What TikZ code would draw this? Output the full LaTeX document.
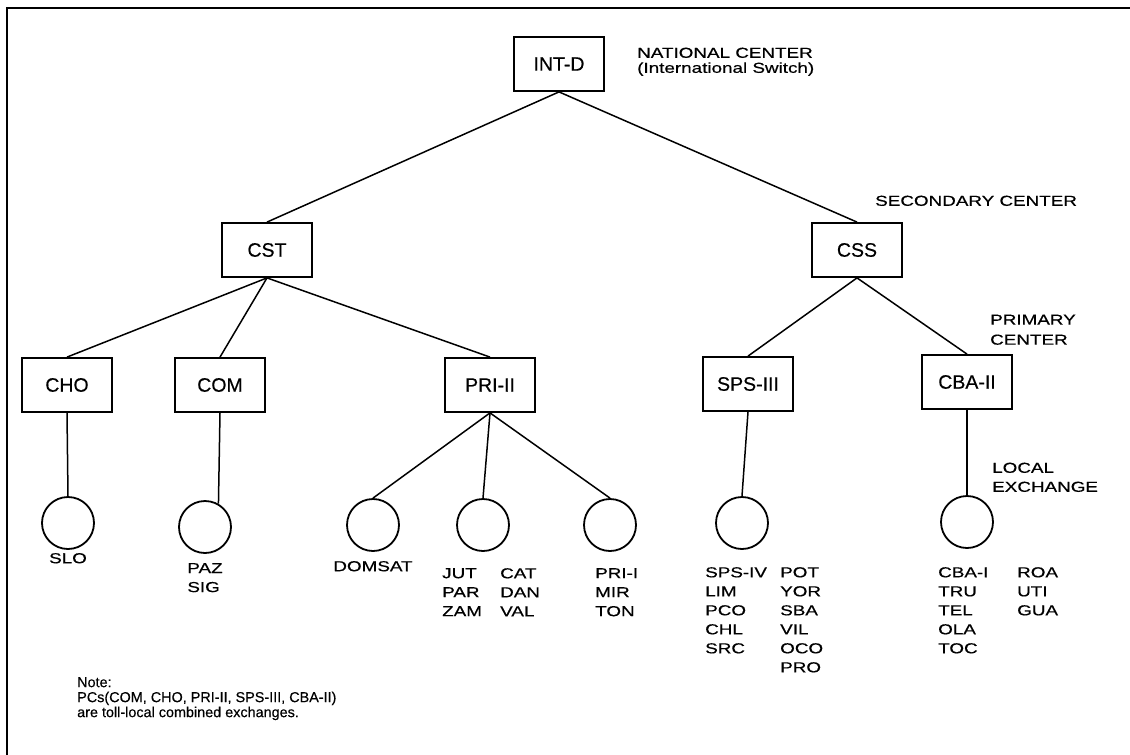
\documentclass[tikz,border=0pt]{standalone}
\usepackage{fontspec}
\setmainfont{Liberation Sans}[FakeBold=0.4]
\newfontfamily\lblfont[FakeStretch=1.3,FakeBold=0.5]{Liberation Sans}
\usetikzlibrary{positioning}

\begin{document}
\begin{tikzpicture}[
    x=1pt, y=-1pt,
    % Node styles
    switch/.style={
        rectangle, draw=black, line width=1.8pt,
        minimum width=90pt, minimum height=54pt,
        font=\fontsize{19.5}{22}\selectfont
    },
    exch/.style={
        circle, draw=black, line width=1.8pt,
        minimum size=52pt, inner sep=0pt
    },
    link/.style={line width=1.5pt, black},
    level/.style={
        font=\lblfont\fontsize{14.5}{20}\selectfont,
        align=left, inner sep=0pt, anchor=north west
    },
    sites/.style={
        font=\lblfont\fontsize{14.5}{19}\selectfont,
        align=left, inner sep=0pt, anchor=north west
    },
    note/.style={
        font=\fontsize{14.4}{15}\selectfont,
        align=left, inner sep=0pt, anchor=north west
    },
    frame/.style={line width=2.2pt, black}
]
\useasboundingbox (0,0) rectangle (1130,755);

% ============================================================
% Frame
% ============================================================
\coordinate (ftr) at (1130,8);
\coordinate (ftl) at (7,8);
\coordinate (fbl) at (7,755);
\draw[frame] (ftr) -- (ftl) -- (fbl);

% ============================================================
% Switching centers
% ============================================================

% -- National center --
\node[switch] (intd) at (559,64) {INT-D};
\node[level, font=\lblfont\fontsize{14.5}{15}\selectfont] (natl) at (637,47.5)
    {NATIONAL CENTER\\(International Switch)};

% -- Secondary centers --
\node[switch] (cst) at (267,250) {CST};
\node[switch] (css) at (857,250) {CSS};
\node[level] (secl) at (875,195.5) {SECONDARY CENTER};

% -- Primary centers --
\node[switch] (cho) at (67,385) {CHO};
\node[switch] (com) at (220,385) {COM};
\node[switch] (pri) at (490,385) {PRI-II};
\node[switch] (sps) at (748,384) {SPS-III};
\node[switch] (cba) at (967,382) {CBA-II};
\node[level] (priml) at (990,314.5) {PRIMARY\\CENTER};

% -- Local exchanges --
\node[exch] (slox) at (68,523) {};
\node[exch] (comx) at (205,527) {};
\node[exch] (domx) at (373,525) {};
\node[exch] (jutx) at (483,525) {};
\node[exch] (prix) at (610,525) {};
\node[exch] (spsx) at (742,523) {};
\node[exch] (cbax) at (967,522) {};
\node[level, font=\lblfont\fontsize{14.5}{19}\selectfont] (locl) at (992,462.5)
    {LOCAL\\EXCHANGE};

% ============================================================
% Exchange names
% ============================================================
\node[sites, below=3pt of slox] (slon) {SLO};
\node[sites, below=9pt of comx] (comn) {PAZ\\SIG};
\node[sites, below=9pt of domx] (domn) {DOMSAT};
\node[sites] (jutn) at (442,568) {JUT\\PAR\\ZAM};
\node[sites] (catn) at (500,568) {CAT\\DAN\\VAL};
\node[sites] (prin) at (595,568) {PRI-I\\MIR\\TON};
\node[sites] (spsn) at (705,567) {SPS-IV\\LIM\\PCO\\CHL\\SRC};
\node[sites] (potn) at (780,567) {POT\\YOR\\SBA\\VIL\\OCO\\PRO};
\node[sites] (cban) at (938,567) {CBA-I\\TRU\\TEL\\OLA\\TOC};
\node[sites] (roan) at (1017,567) {ROA\\UTI\\GUA};

% ============================================================
% Links
% ============================================================
\draw[link] (intd.south) -- (cst.north);
\draw[link] (intd.south) -- (css.north);

\draw[link] (cst.south) -- (cho.north);
\draw[link] (cst.south) -- (com.north);
\draw[link] (cst.south) -- (pri.north);
\draw[link] (css.south) -- (sps.north);
\draw[link] (css.south) -- (cba.north);

\draw[link] (cho.south) -- (slox.north);
\draw[link] (com.south) -- (comx.60);
\draw[link] (pri.south) -- (domx.north);
\draw[link] (pri.south) -- (jutx.north);
\draw[link] (pri.south) -- (prix.north);
\draw[link] (sps.south) -- (spsx.north);
\draw[link] (cba.south) -- (cbax.north);

% Note
\node[note] (notel) at (77,677)
    {Note:\\PCs(COM, CHO, PRI-II, SPS-III, CBA-II)\\are toll-local combined exchanges.};

\end{tikzpicture}
\end{document}
